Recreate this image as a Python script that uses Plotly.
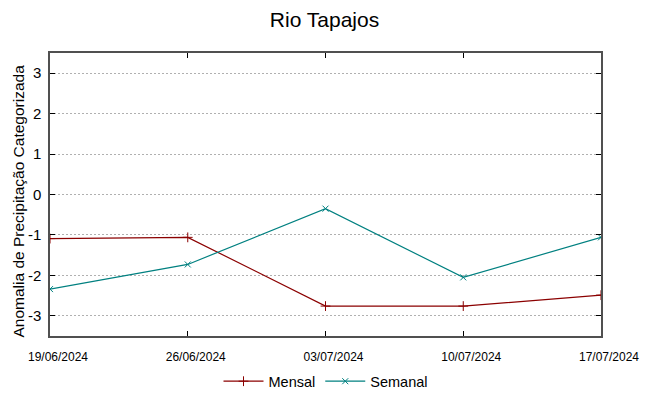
import plotly.graph_objects as go

dates = ["2024-06-19", "2024-06-26", "2024-07-03", "2024-07-10", "2024-07-17"]
mensal = [-1.09, -1.06, -2.76, -2.76, -2.49]
semanal = [-2.34, -1.73, -0.35, -2.05, -1.06]
tick_dates = ["2024-06-19", "2024-06-26", "2024-07-03", "2024-07-10", "2024-07-17"]
tick_labels = ["19/06/2024", "26/06/2024", "03/07/2024", "10/07/2024", "17/07/2024"]
y_ticks = [-3, -2, -1, 0, 1, 2, 3]
y_labels = ["-3", "-2", "-1", "0", "1", "2", "3"]

fig = go.Figure()
fig.add_trace(go.Scatter(
    x=dates, y=mensal, name="Mensal", mode="lines+markers",
    line=dict(color="#8b0000", width=1.2),
    marker=dict(symbol="cross-thin", size=7, line=dict(color="#8b0000", width=1)),
))
fig.add_trace(go.Scatter(
    x=dates, y=semanal, name="Semanal", mode="lines+markers",
    line=dict(color="#008080", width=1.2),
    marker=dict(symbol="x-thin", size=6, line=dict(color="#008080", width=1)),
))

fig.update_layout(
    width=649, height=396,
    margin=dict(l=50, r=48, t=53, b=60, autoexpand=False),
    paper_bgcolor="white", plot_bgcolor="white",
    font=dict(family="Liberation Sans, Arial, sans-serif", color="black"),
    title=dict(text="Rio Tapajos", x=0.5, xanchor="center", y=0.95, yanchor="middle",
               font=dict(size=21)),
    showlegend=True,
    legend=dict(orientation="h", x=0.5, xanchor="center", y=-0.16, yanchor="middle",
                font=dict(size=14.5), itemwidth=40),
    annotations=[dict(
        text="Anomalia de Precipitação Categorizada", textangle=-90,
        xref="paper", yref="paper", x=0, y=0.5, xanchor="center", yanchor="middle",
        xshift=-32, yshift=-7, showarrow=False, font=dict(size=15.5),
    )],
)
fig.update_xaxes(
    type="date", range=["2024-06-19", "2024-07-17"],
    tickvals=tick_dates, ticktext=tick_labels, automargin=False,
    tickfont=dict(size=12),
    ticklabelstandoff=9, ticklabelshift=8,
    showgrid=False, zeroline=False,
    showline=True, linecolor="#505050", linewidth=1.5, mirror="ticks",
    ticks="inside", ticklen=5, tickcolor="black",
)
fig.update_yaxes(
    range=[-3.5, 3.5], tickvals=y_ticks, ticktext=y_labels, automargin=False,
    tickfont=dict(size=15), ticklabelstandoff=4,
    showgrid=True, gridcolor="#b0b0b0", griddash="2px,2px", gridwidth=1,
    zeroline=False,
    showline=True, linecolor="#505050", linewidth=1.5, mirror="ticks",
    ticks="inside", ticklen=5, tickcolor="black",
)

fig.write_html("out.html", config={"displayModeBar": False},
               post_script="document.body.style.margin='0';")
